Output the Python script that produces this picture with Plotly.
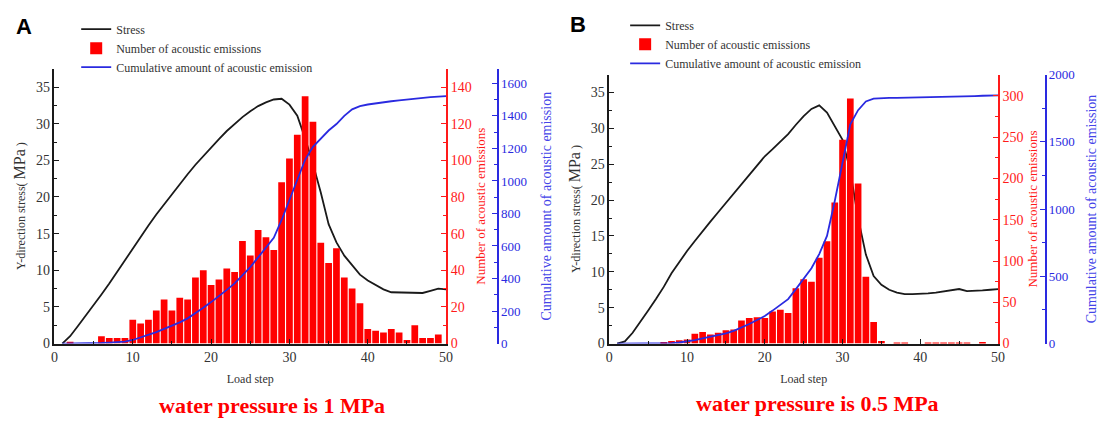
import plotly.graph_objects as go

steps = list(range(1, 51))

# ---------------- Panel A : water pressure 1 MPa ----------------
stress_a = [0, 1.0, 2.4, 3.8, 5.2, 6.7, 8.2, 9.8, 11.4, 13.0,
            14.6, 16.1, 17.6, 19.0, 20.4, 21.8, 23.1, 24.4, 25.6, 26.8,
            27.9, 29.0, 30.0, 30.9, 31.7, 32.4, 32.9, 33.3, 33.4, 32.6,
            31.1, 28.0, 24.5, 20.6, 16.3, 13.8, 12.0, 10.7, 9.4, 8.6,
            8.0, 7.4, 7.0, 7.0, 7.0, 7.0, 6.9, 7.2, 7.5, 7.4]
count_a = [0, 1, 0, 0, 0, 4, 3, 3, 3, 13,
           11, 13, 18, 24, 18, 25, 24, 36, 40, 32,
           35, 41, 39, 56, 48, 62, 58, 51, 88, 101,
           114, 135, 121, 55, 44, 52, 36, 30, 22, 8,
           7, 6, 8, 6, 2, 10, 3, 3, 5, 0]
cum_a = [0, 0, 0, 0, 2, 4, 6, 9, 12, 22,
         38, 52, 70, 90, 110, 130, 155, 185, 220, 255,
         290, 330, 370, 420, 470, 530, 590, 650, 760, 880,
         1000, 1130, 1210, 1260, 1310, 1350, 1400, 1440, 1460, 1470,
         1478, 1484, 1490, 1495, 1500, 1508, 1512, 1515, 1518, 1521]

# ---------------- Panel B : water pressure 0.5 MPa ----------------
stress_b = [0, 0.3, 1.5, 3.0, 4.6, 6.2, 7.9, 9.8, 11.4, 12.9,
            14.3, 15.7, 17.0, 18.3, 19.6, 20.9, 22.2, 23.6, 24.9, 26.1,
            27.1, 28.1, 29.2, 30.5, 31.7, 32.7, 33.2, 32.2, 30.4, 28.4,
            24.0, 17.5, 12.4, 9.4, 8.2, 7.5, 7.1, 6.9, 6.9, 6.9,
            7.0, 7.1, 7.3, 7.5, 7.6, 7.3, 7.3, 7.4, 7.5, 7.6]
count_b = [0, 0, 0, 0, 0, 0, 2, 3, 4, 5,
           12, 14, 11, 13, 16, 17, 28, 31, 32, 31,
           39, 41, 37, 67, 78, 75, 104, 124, 171, 247,
           297, 194, 81, 26, 3, 0, 1, 1, 0, 0,
           1, 1, 1, 1, 1, 1, 0, 2, 0, 0]
cum_b = [0, 0, 0, 0, 0, 0, 1, 4, 8, 15,
         25, 38, 50, 62, 76, 94, 118, 145, 175, 205,
         245, 288, 330, 405, 480, 560, 665, 800, 1060, 1350,
         1630, 1735, 1800, 1820, 1825, 1826, 1826, 1827, 1827, 1828,
         1829, 1831, 1833, 1835, 1836, 1838, 1840, 1842, 1844, 1845]

names = ["Stress", "Number of acoustic emissions", "Cumulative amount of acoustic emission"]
panel_titles = ["water pressure is 1 MPa", "water pressure is 0.5 MPa"]
panel_letters = ["A", "B"]

SERIF = "Liberation Serif"
RED = "#ff1a1a"
BLUE = "#2a2ae0"
BLK = "#1a1a1a"
GREY = "#333333"

fig = go.Figure()

def add_panel(xa, ys, yc, ycum, stress, count, cum, leg):
    fig.add_trace(go.Scatter(x=steps, y=stress, mode="lines", name=names[0],
                             line=dict(color=BLK, width=1.8), xaxis=xa, yaxis=ys, legend=leg))
    fig.add_trace(go.Bar(x=steps, y=count, name=names[1], width=0.86,
                         marker=dict(color="#ff0000", line=dict(width=0)),
                         xaxis=xa, yaxis=yc, legend=leg))
    fig.add_trace(go.Scatter(x=steps, y=cum, mode="lines", name=names[2],
                             line=dict(color=BLUE, width=1.8), xaxis=xa, yaxis=ycum, legend=leg))

add_panel("x", "y", "y2", "y3", stress_a, count_a, cum_a, "legend")
add_panel("x2", "y4", "y5", "y6", stress_b, count_b, cum_b, "legend2")

def xaxis(domain, anchor):
    return dict(domain=domain, anchor=anchor, range=[0, 50], showline=True, linecolor=BLK,
                linewidth=1.5, ticks="inside", ticklen=5, tickwidth=1.2, tickcolor=BLK,
                tick0=0, dtick=10, minor=dict(ticks="inside", ticklen=3, dtick=5, tickcolor=BLK),
                tickfont=dict(family=SERIF, size=14, color=GREY), showgrid=False, zeroline=False,
                title=dict(text="Load step", font=dict(family=SERIF, size=12, color=GREY), standoff=10))

def stress_axis(domain, anchor):
    return dict(domain=domain, anchor=anchor, range=[0, 37.5], showline=True, linecolor=BLK,
                linewidth=1.5, ticks="inside", ticklen=5, tickwidth=1.2, tickcolor=BLK,
                tick0=0, dtick=5, minor=dict(ticks="inside", ticklen=3, dtick=2.5, tickcolor=BLK),
                tickfont=dict(family=SERIF, size=14, color=GREY), showgrid=False, zeroline=False,
                title=dict(text='Y-direction stress( <span style="font-size:16px">MPa</span> )',
                           font=dict(family=SERIF, size=12, color=GREY), standoff=8))

def red_axis(over, anchor, rng, dt):
    return dict(overlaying=over, anchor=anchor, side="right", range=rng, showline=True,
                linecolor=RED, linewidth=1.5, ticks="inside", ticklen=5, tickwidth=1.2,
                tickcolor=RED, tick0=0, dtick=dt,
                minor=dict(ticks="inside", ticklen=3, dtick=dt / 2, tickcolor=RED),
                tickfont=dict(family=SERIF, size=14, color=RED), showgrid=False, zeroline=False,
                title=dict(text="Number of acoustic emissions",
                           font=dict(family=SERIF, size=13, color=RED), standoff=5))

def blue_axis(over, pos, rng, dt):
    return dict(overlaying=over, anchor="free", position=pos, side="right", range=rng,
                showline=True, linecolor=BLUE, linewidth=1.5, ticks="inside", ticklen=5,
                tickwidth=1.2, tickcolor=BLUE, tick0=0, dtick=dt,
                minor=dict(ticks="inside", ticklen=3, dtick=dt / 2, tickcolor=BLUE),
                tickfont=dict(family=SERIF, size=13, color=BLUE), showgrid=False, zeroline=False,
                title=dict(text="Cumulative amount of acoustic emission",
                           font=dict(family=SERIF, size=14, color="#4444e8"), standoff=14))

legend_common = dict(font=dict(family=SERIF, size=12, color=GREY), bgcolor="rgba(0,0,0,0)",
                     xanchor="left", yanchor="top", tracegroupgap=0, itemwidth=30)

fig.update_layout(
    width=1099, height=421, margin=dict(l=0, r=0, t=0, b=0),
    paper_bgcolor="white", plot_bgcolor="white",
    font=dict(family=SERIF, color=GREY),
    bargap=0.1,
    xaxis=xaxis([51 / 1099, 447 / 1099], "y"),
    yaxis=stress_axis([72 / 421, 357 / 421], "x"),
    yaxis2=red_axis("y", "x", [0, 150], 20),
    yaxis3=blue_axis("y", 499 / 1099, [0, 1690], 200),
    xaxis2=xaxis([612 / 1099, 1005 / 1099], "y4"),
    yaxis4=stress_axis([72 / 421, 351 / 421], "x2"),
    yaxis5=red_axis("y4", "x2", [0, 326], 50),
    yaxis6=blue_axis("y4", 1053 / 1099, [0, 2000], 500),
    legend=dict(x=73 / 1099, y=1 - 8 / 421, **legend_common),
    legend2=dict(x=628 / 1099, y=1 - 4 / 421, **legend_common),
    annotations=[
        dict(text=panel_letters[0], x=10 / 1099, y=1 - 20 / 421, xref="paper", yref="paper",
             xanchor="left", yanchor="middle", showarrow=False,
             font=dict(family="Liberation Sans", size=22, color="black", weight="bold")),
        dict(text=panel_letters[1], x=570 / 1099, y=1 - 18 / 421, xref="paper", yref="paper",
             xanchor="left", yanchor="middle", showarrow=False,
             font=dict(family="Liberation Sans", size=22, color="black", weight="bold")),
        dict(text="<b>" + panel_titles[0] + "</b>", x=271 / 1099, y=1 - 413 / 421, xref="paper",
             yref="paper", xanchor="center", yanchor="middle", showarrow=False,
             font=dict(family=SERIF, size=22, color="#ff0000")),
        dict(text="<b>" + panel_titles[1] + "</b>", x=822 / 1099, y=1 - 411 / 421, xref="paper",
             yref="paper", xanchor="center", yanchor="middle", showarrow=False,
             font=dict(family=SERIF, size=22, color="#ff0000")),
    ],
)

fig.write_html("out.html")
